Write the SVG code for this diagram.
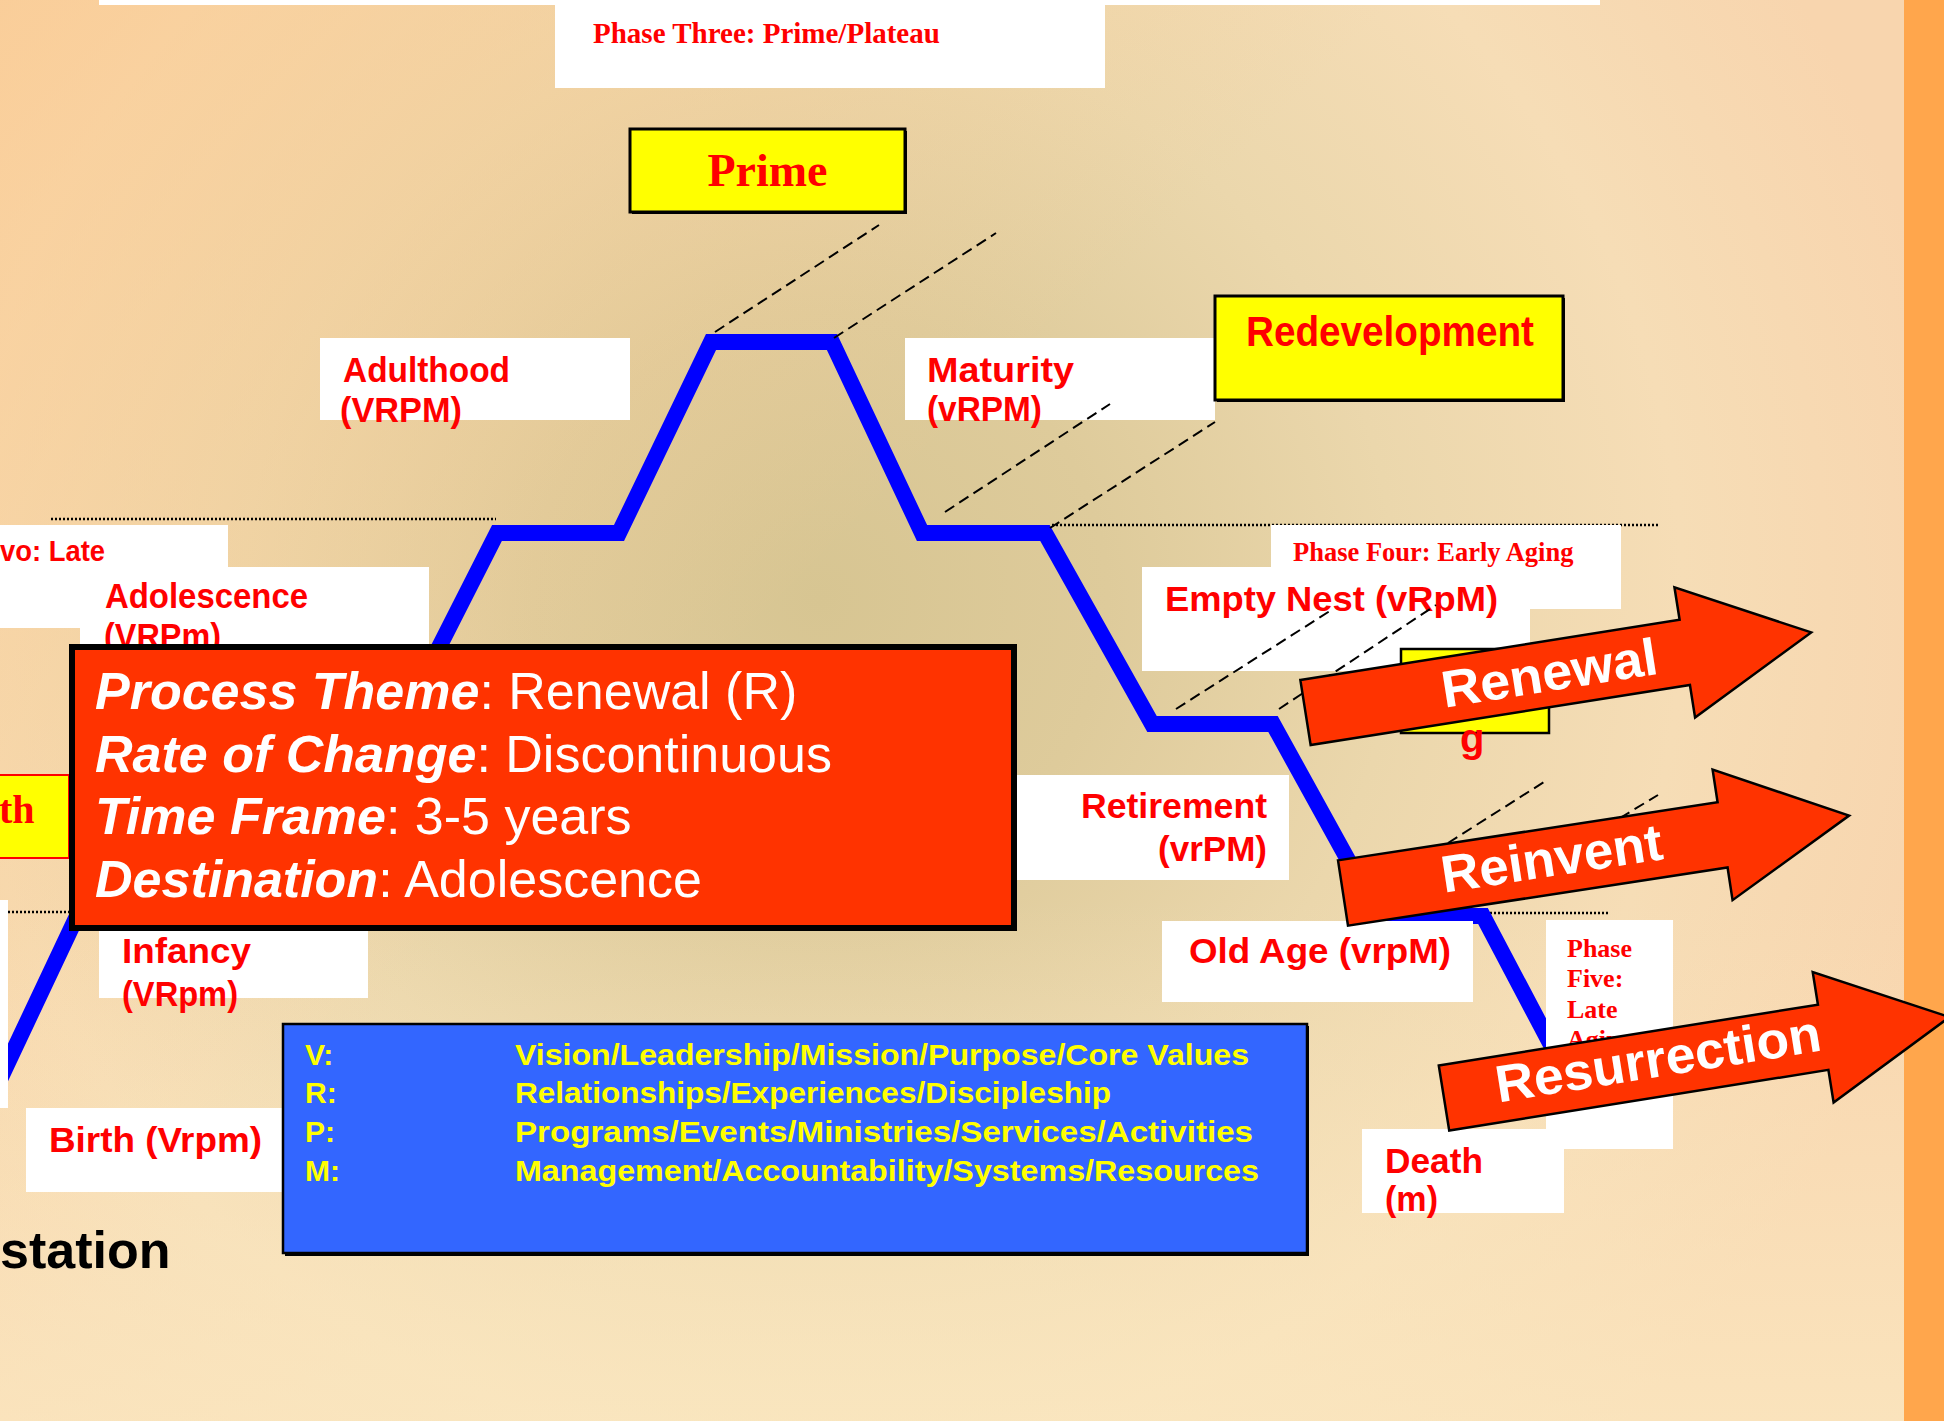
<svg xmlns="http://www.w3.org/2000/svg" width="1944" height="1421" viewBox="0 0 1944 1421">
<defs>
  <radialGradient id="bg" cx="820" cy="600" r="1150" gradientUnits="userSpaceOnUse">
    <stop offset="0" stop-color="#D7C592"/>
    <stop offset="0.25" stop-color="#DECB9B"/>
    <stop offset="0.5" stop-color="#EBD7AC"/>
    <stop offset="0.75" stop-color="#F6DDB6"/>
    <stop offset="1" stop-color="#F8D5AE"/>
  </radialGradient>
  <linearGradient id="tl" x1="0" y1="0" x2="700" y2="700" gradientUnits="userSpaceOnUse">
    <stop offset="0" stop-color="#FBC98F" stop-opacity="0.7"/>
    <stop offset="1" stop-color="#FBC98F" stop-opacity="0"/>
  </linearGradient>
  <linearGradient id="bt" x1="0" y1="900" x2="0" y2="1421" gradientUnits="userSpaceOnUse">
    <stop offset="0" stop-color="#FBE9C2" stop-opacity="0"/>
    <stop offset="1" stop-color="#FBE9C2" stop-opacity="0.7"/>
  </linearGradient>
  <path id="arrowShape" d="M 0 -33 L 384 -33 L 384 -66 L 512 0 L 384 66 L 384 33 L 0 33 Z"/>
</defs>
<style>
  .wbox { fill: #FFFFFF; }
  .ybox { fill: #FFFF00; stroke: #000000; stroke-width: 3; }
  .shadow { fill: #000000; }
  .lbl { font-family: "Liberation Sans", Arial, sans-serif; font-weight: bold; fill: #FF0000; font-size: 35px; }
  .ser { font-family: "Liberation Serif", "Times New Roman", serif; font-weight: bold; fill: #FF0000; }
  .dash { stroke: #000000; stroke-width: 2; stroke-dasharray: 11 6; fill: none; }
  .dot { stroke: #000000; stroke-width: 2.5; stroke-dasharray: 2 2; fill: none; }
  .curve { stroke: #0000FF; stroke-width: 16; fill: none; stroke-linejoin: miter; stroke-miterlimit: 10; }
  .arrow { fill: #FF3300; stroke: #000000; stroke-width: 2.5; }
  .atext { font-family: "Liberation Sans", Arial, sans-serif; font-weight: bold; fill: #FFFFFF; font-size: 52px; }
  .theme { font-family: "Liberation Sans", Arial, sans-serif; fill: #FFFFFF; font-size: 52px; }
  .legend { font-family: "Liberation Sans", Arial, sans-serif; font-weight: bold; fill: #FFFF00; font-size: 30px; }
</style>

<!-- background -->
<rect x="0" y="0" width="1944" height="1421" fill="url(#bg)"/>
<rect x="0" y="0" width="1944" height="1421" fill="url(#tl)"/>
<rect x="0" y="0" width="1944" height="1421" fill="url(#bt)"/>
<rect x="1904" y="0" width="40" height="1421" fill="#FFA64C"/>

<!-- top strips -->
<g id="top-strip"><rect class="wbox" x="99" y="0" width="1501" height="5"/></g>
<g id="phase-three">
  <rect class="wbox" x="555" y="0" width="550" height="88"/>
  <text class="ser" x="593" y="43" font-size="29">Phase Three: Prime/Plateau</text>
</g>

<!-- dotted phase lines -->
<g id="phase-lines">
  <line class="dot" x1="51" y1="519" x2="496" y2="519"/>
  <line class="dot" x1="1052" y1="525" x2="1658" y2="525"/>
  <line class="dot" x1="0" y1="912" x2="70" y2="912"/>
  <line class="dot" x1="1486" y1="913" x2="1608" y2="913"/>
</g>

<!-- life-cycle curve -->
<g id="connectors">
  <path class="curve" d="M -5 1090 L 77 916 L 200 916 L 290 724 L 400 724 L 497 533 L 619 533 L 711 342 L 832 342 L 922 533 L 1045 533 L 1152 724 L 1273 724 L 1379 916 L 1483 916 L 1560 1062"/>
</g>

<!-- white label boxes -->
<g id="left-strip"><rect class="wbox" x="0" y="900" width="8" height="208"/></g>
<g id="phase-two">
  <rect class="wbox" x="0" y="525" width="228" height="103"/>
  <text class="lbl" x="0" y="561" style="font-size:29px" textLength="105" lengthAdjust="spacingAndGlyphs">vo: Late</text>
</g>
<g id="adolescence">
  <rect class="wbox" x="80" y="567" width="349" height="85"/>
  <text class="lbl" x="105" y="608" textLength="203" lengthAdjust="spacingAndGlyphs">Adolescence</text>
  <text class="lbl" x="104" y="648" textLength="117" lengthAdjust="spacingAndGlyphs">(VRPm)</text>
</g>
<g id="adulthood">
  <rect class="wbox" x="320" y="338" width="310" height="82"/>
  <text class="lbl" x="343" y="382" textLength="167" lengthAdjust="spacingAndGlyphs">Adulthood</text>
  <text class="lbl" x="340" y="422" textLength="122" lengthAdjust="spacingAndGlyphs">(VRPM)</text>
</g>
<g id="maturity">
  <rect class="wbox" x="905" y="338" width="310" height="82"/>
  <text class="lbl" x="927" y="382" textLength="147" lengthAdjust="spacingAndGlyphs">Maturity</text>
  <text class="lbl" x="927" y="421" textLength="115" lengthAdjust="spacingAndGlyphs">(vRPM)</text>
</g>
<g id="phase-four">
  <rect class="wbox" x="1271" y="525" width="350" height="84"/>
  <text class="ser" x="1293" y="561" font-size="26.5">Phase Four: Early Aging</text>
</g>
<g id="empty-nest">
  <rect class="wbox" x="1142" y="567" width="388" height="104"/>
  <text class="lbl" x="1165" y="611" textLength="333" lengthAdjust="spacingAndGlyphs">Empty Nest (vRpM)</text>
</g>
<g id="infancy">
  <rect class="wbox" x="99" y="925" width="269" height="73"/>
  <text class="lbl" x="122" y="963" textLength="129" lengthAdjust="spacingAndGlyphs">Infancy</text>
  <text class="lbl" x="122" y="1006" textLength="116" lengthAdjust="spacingAndGlyphs">(VRpm)</text>
</g>
<g id="birth">
  <rect class="wbox" x="26" y="1108" width="257" height="84"/>
  <text class="lbl" x="49" y="1152" textLength="213" lengthAdjust="spacingAndGlyphs">Birth (Vrpm)</text>
</g>
<g id="retirement">
  <rect class="wbox" x="1017" y="775" width="272" height="105"/>
  <text class="lbl" x="1081" y="818" textLength="186" lengthAdjust="spacingAndGlyphs">Retirement</text>
  <text class="lbl" x="1158" y="861" textLength="109" lengthAdjust="spacingAndGlyphs">(vrPM)</text>
</g>
<g id="old-age">
  <rect class="wbox" x="1162" y="921" width="311" height="81"/>
  <text class="lbl" x="1189" y="963" textLength="262" lengthAdjust="spacingAndGlyphs">Old Age (vrpM)</text>
</g>
<g id="phase-five">
  <rect class="wbox" x="1546" y="920" width="127" height="229"/>
  <text class="ser" x="1567" y="957" font-size="26">Phase</text>
  <text class="ser" x="1567" y="987" font-size="26">Five:</text>
  <text class="ser" x="1567" y="1018" font-size="26">Late</text>
  <text class="ser" x="1567" y="1048" font-size="26">Aging</text>
</g>
<g id="death">
  <rect class="wbox" x="1362" y="1129" width="202" height="84"/>
  <text class="lbl" x="1385" y="1173" textLength="98" lengthAdjust="spacingAndGlyphs">Death</text>
  <text class="lbl" x="1385" y="1211" textLength="53" lengthAdjust="spacingAndGlyphs">(m)</text>
</g>

<!-- yellow boxes -->
<g id="prime">
  <rect class="shadow" x="632" y="131" width="275" height="83"/>
  <rect class="ybox" x="630" y="129" width="275" height="83"/>
  <text class="ser" x="767.5" y="186" font-size="46" text-anchor="middle">Prime</text>
</g>
<g id="redevelopment">
  <rect class="shadow" x="1217" y="298" width="348" height="104"/>
  <rect class="ybox" x="1215" y="296" width="348" height="104"/>
  <text class="lbl" x="1246" y="346" style="font-size:42px" textLength="288" lengthAdjust="spacingAndGlyphs">Redevelopment</text>
</g>
<g id="growth">
  <rect x="-2" y="775" width="71" height="83" fill="#FFFF00" stroke="#FF0000" stroke-width="2"/>
  <text class="ser" x="-1" y="823" font-size="40">th</text>
</g>
<g id="restructuring">
  <rect x="1401" y="649" width="148" height="84" fill="#FFFF00" stroke="#000000" stroke-width="2.5"/>
  <text class="lbl" x="1460" y="752" style="font-size:40px">g</text>
</g>

<!-- dashed leader lines -->
<g id="leaders">
  <line class="dash" x1="715" y1="332" x2="879" y2="225"/>
  <line class="dash" x1="834" y1="338" x2="996" y2="233"/>
  <line class="dash" x1="945" y1="512" x2="1110" y2="404"/>
  <line class="dash" x1="1050" y1="528" x2="1215" y2="422"/>
  <line class="dash" x1="1176" y1="709" x2="1333" y2="609"/>
  <line class="dash" x1="1279" y1="709" x2="1436" y2="605"/>
  <line class="dash" x1="1448" y1="843" x2="1544" y2="782"/>
  <line class="dash" x1="1620" y1="818" x2="1658" y2="795"/>
</g>

<!-- process theme box -->
<g id="process-theme">
  <rect x="72" y="647" width="942" height="281" fill="#FF3300" stroke="#000000" stroke-width="6"/>
  <text class="theme" x="95" y="709"><tspan font-weight="bold" font-style="italic">Process Theme</tspan>: Renewal (R)</text>
  <text class="theme" x="95" y="772"><tspan font-weight="bold" font-style="italic">Rate of Change</tspan>: Discontinuous</text>
  <text class="theme" x="95" y="834"><tspan font-weight="bold" font-style="italic">Time Frame</tspan>: 3-5 years</text>
  <text class="theme" x="95" y="897"><tspan font-weight="bold" font-style="italic">Destination</tspan>: Adolescence</text>
</g>

<!-- legend box -->
<g id="legend">
  <rect class="shadow" x="285" y="1026" width="1024" height="230"/>
  <rect x="283" y="1024" width="1024" height="229" fill="#3366FF" stroke="#000000" stroke-width="2.5"/>
  <text class="legend" x="305" y="1065">V:</text>
  <text class="legend" x="305" y="1103">R:</text>
  <text class="legend" x="305" y="1142">P:</text>
  <text class="legend" x="305" y="1181">M:</text>
  <text class="legend" x="515" y="1065" textLength="734" lengthAdjust="spacingAndGlyphs">Vision/Leadership/Mission/Purpose/Core Values</text>
  <text class="legend" x="515" y="1103" textLength="596" lengthAdjust="spacingAndGlyphs">Relationships/Experiences/Discipleship</text>
  <text class="legend" x="515" y="1142" textLength="738" lengthAdjust="spacingAndGlyphs">Programs/Events/Ministries/Services/Activities</text>
  <text class="legend" x="515" y="1181" textLength="744" lengthAdjust="spacingAndGlyphs">Management/Accountability/Systems/Resources</text>
</g>

<g id="station-text">
  <text x="0" y="1268" font-family="Liberation Sans, Arial, sans-serif" font-weight="bold" font-size="52" fill="#000000">station</text>
</g>

<!-- block arrows -->
<g id="renewal" transform="translate(1305.5,712.5) rotate(-9)">
  <use href="#arrowShape" class="arrow"/>
  <text class="atext" x="138" y="17" textLength="218" lengthAdjust="spacingAndGlyphs">Renewal</text>
</g>
<g id="reinvent" transform="translate(1343,893) rotate(-8.7)">
  <use href="#arrowShape" class="arrow"/>
  <text class="atext" x="100" y="15" textLength="223" lengthAdjust="spacingAndGlyphs">Reinvent</text>
</g>
<g id="resurrection" transform="translate(1444,1098) rotate(-9.1)">
  <use href="#arrowShape" class="arrow"/>
  <text class="atext" x="53" y="13" textLength="329" lengthAdjust="spacingAndGlyphs">Resurrection</text>
</g>
</svg>
